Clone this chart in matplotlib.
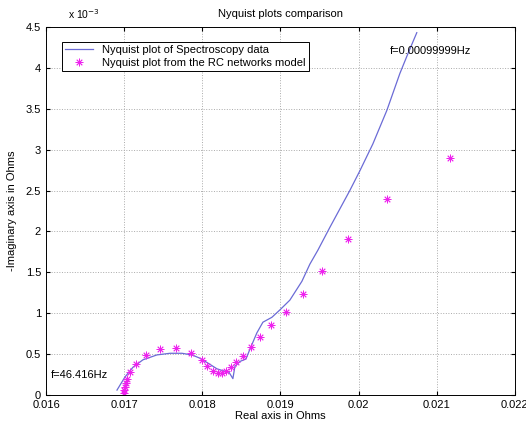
import matplotlib
matplotlib.use('Agg')
import matplotlib.pyplot as plt
from matplotlib.ticker import FuncFormatter

plt.rcParams['font.family'] = ['Liberation Sans', 'DejaVu Sans']

# measured spectroscopy data (Ohms)
spec_re = [0.016908, 0.017010, 0.017113, 0.017240, 0.017419, 0.017586, 0.017739,
           0.017867, 0.017969, 0.018072, 0.018187, 0.018289, 0.018340, 0.018391,
           0.018417, 0.018481, 0.018558, 0.018609, 0.018698, 0.018775, 0.018890,
           0.018992, 0.019120, 0.019274, 0.019376, 0.019478, 0.019632, 0.019887,
           0.020015, 0.020182, 0.020361, 0.020527, 0.020629, 0.020744]
spec_im = [0.06e-3, 0.22e-3, 0.34e-3, 0.43e-3, 0.49e-3, 0.51e-3, 0.51e-3,
           0.49e-3, 0.45e-3, 0.39e-3, 0.32e-3, 0.29e-3, 0.28e-3, 0.20e-3,
           0.35e-3, 0.41e-3, 0.44e-3, 0.56e-3, 0.76e-3, 0.89e-3, 0.95e-3,
           1.04e-3, 1.16e-3, 1.39e-3, 1.60e-3, 1.77e-3, 2.05e-3, 2.50e-3,
           2.74e-3, 3.07e-3, 3.48e-3, 3.93e-3, 4.17e-3, 4.43e-3]

# RC network model
rc_re = [0.016997, 0.017004, 0.017010, 0.017023, 0.017036, 0.017074, 0.017151,
         0.017279, 0.017458, 0.017662, 0.017854, 0.017995, 0.018059, 0.018136,
         0.018199, 0.018251, 0.018302, 0.018366, 0.018430, 0.018519, 0.018621,
         0.018737, 0.018877, 0.019069, 0.019286, 0.019529, 0.019862, 0.020361,
         0.021166]
rc_im = [0.02e-3, 0.06e-3, 0.10e-3, 0.15e-3, 0.19e-3, 0.28e-3, 0.38e-3,
         0.49e-3, 0.56e-3, 0.57e-3, 0.51e-3, 0.43e-3, 0.35e-3, 0.29e-3,
         0.27e-3, 0.27e-3, 0.29e-3, 0.34e-3, 0.40e-3, 0.48e-3, 0.59e-3,
         0.71e-3, 0.85e-3, 1.02e-3, 1.24e-3, 1.52e-3, 1.91e-3, 2.40e-3,
         2.90e-3]

x_ticks = [0.016, 0.017, 0.018, 0.019, 0.020, 0.021, 0.022]
x_labels = ['0.016', '0.017', '0.018', '0.019', '0.02', '0.021', '0.022']
y_ticks = [0, 0.5e-3, 1e-3, 1.5e-3, 2e-3, 2.5e-3, 3e-3, 3.5e-3, 4e-3, 4.5e-3]

fig = plt.figure(figsize=(5.26, 4.25), dpi=100)
ax = fig.add_axes([0.0875, 0.0706, 0.8915, 0.866])

ax.plot(spec_re, spec_im, color='#6b6bd6', linewidth=0.9,
        label='Nyquist plot of Spectroscopy data')
ax.plot(rc_re, rc_im, linestyle='none', marker=(8, 2, 0), markersize=5.5,
        markeredgewidth=0.6, color='#ee22ee',
        label='Nyquist plot from the RC networks model')

ax.set_xlim(0.016, 0.022)
ax.set_ylim(0, 4.5e-3)
ax.set_xticks(x_ticks)
ax.set_xticklabels(x_labels)
ax.set_yticks(y_ticks)
ax.yaxis.set_major_formatter(FuncFormatter(lambda v, p: f'{v * 1e3:g}'))
ax.tick_params(direction='in', top=True, right=True, labelsize=8, length=3)
ax.grid(True, linestyle=':', color='#aaaaaa', linewidth=0.7)

for s in ax.spines.values():
    s.set_linewidth(0.7)

ax.set_title('Nyquist plots comparison', fontsize=8, pad=7)
ax.set_xlabel('Real axis in Ohms', fontsize=8, labelpad=1)
ax.set_ylabel('-Imaginary axis in Ohms', fontsize=8, labelpad=6)
fig.text(0.129, 0.95, 'x 10$^{-3}$', fontsize=7.5, ha='left', va='bottom')

ax.text(0.0204, 4.21e-3, 'f=0.00099999Hz', fontsize=8, ha='left', va='center')
ax.text(0.016064, 0.24e-3, 'f=46.416Hz', fontsize=8, ha='left', va='center')

leg = ax.legend(loc='upper left', bbox_to_anchor=(0.034, 0.959), fontsize=8,
                fancybox=False, framealpha=1, edgecolor='black',
                borderaxespad=0, handlelength=2.5, borderpad=0.3,
                labelspacing=0.2)
leg.get_frame().set_linewidth(0.7)

fig.savefig('out.png', dpi=100)
